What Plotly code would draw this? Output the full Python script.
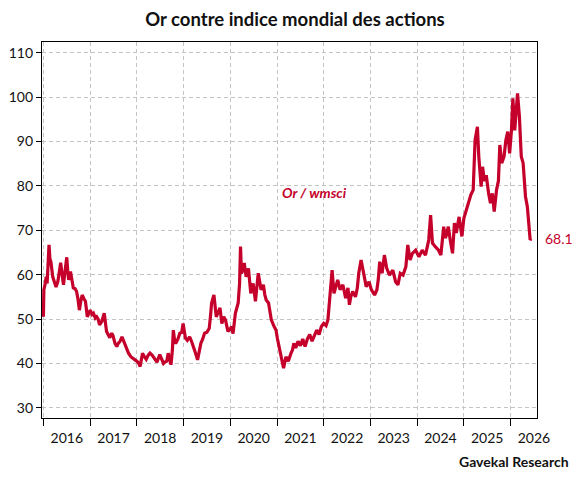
import plotly.graph_objects as go
import pandas as pd

# Or / wmsci ratio (fractional year, value)
years = [
    2016.00, 2016.01, 2016.04, 2016.06, 2016.08, 2016.10, 2016.12, 2016.14, 2016.16, 2016.20,
    2016.23, 2016.27, 2016.31, 2016.34, 2016.37, 2016.40, 2016.43, 2016.46, 2016.50, 2016.52,
    2016.54, 2016.58, 2016.61, 2016.64, 2016.68, 2016.71, 2016.74, 2016.77, 2016.80, 2016.83,
    2016.87, 2016.90, 2016.94, 2016.97, 2017.00, 2017.04, 2017.07, 2017.11, 2017.14, 2017.17,
    2017.20, 2017.25, 2017.30, 2017.35, 2017.38, 2017.42, 2017.46, 2017.49, 2017.53, 2017.57,
    2017.60, 2017.64, 2017.68, 2017.72, 2017.75, 2017.79, 2017.82, 2017.87, 2017.92, 2017.96,
    2018.00, 2018.04, 2018.07, 2018.10, 2018.12, 2018.16, 2018.20, 2018.24, 2018.28, 2018.33,
    2018.38, 2018.43, 2018.49, 2018.53, 2018.57, 2018.60, 2018.64, 2018.67, 2018.70, 2018.73,
    2018.76, 2018.78, 2018.81, 2018.83, 2018.88, 2018.92, 2018.96, 2018.99, 2019.02, 2019.04,
    2019.08, 2019.13, 2019.17, 2019.20, 2019.25, 2019.30, 2019.33, 2019.37, 2019.41, 2019.45,
    2019.50, 2019.55, 2019.58, 2019.60, 2019.65, 2019.68, 2019.70, 2019.74, 2019.78, 2019.82,
    2019.86, 2019.90, 2019.95, 2020.00, 2020.03, 2020.06, 2020.11, 2020.17, 2020.20, 2020.22,
    2020.24, 2020.27, 2020.30, 2020.34, 2020.39, 2020.44, 2020.49, 2020.54, 2020.57, 2020.60,
    2020.66, 2020.71, 2020.74, 2020.77, 2020.82, 2020.85, 2020.88, 2020.94, 2020.98, 2021.01,
    2021.04, 2021.09, 2021.14, 2021.19, 2021.24, 2021.30, 2021.33, 2021.36, 2021.40, 2021.45,
    2021.50, 2021.55, 2021.60, 2021.65, 2021.70, 2021.75, 2021.80, 2021.85, 2021.90, 2021.95,
    2022.00, 2022.05, 2022.09, 2022.13, 2022.16, 2022.18, 2022.22, 2022.26, 2022.30, 2022.35,
    2022.41, 2022.47, 2022.52, 2022.55, 2022.58, 2022.62, 2022.68, 2022.72, 2022.75, 2022.80,
    2022.85, 2022.91, 2022.97, 2023.02, 2023.09, 2023.14, 2023.17, 2023.20, 2023.25, 2023.30,
    2023.35, 2023.41, 2023.48, 2023.54, 2023.59, 2023.64, 2023.70, 2023.76, 2023.80, 2023.85,
    2023.90, 2023.97, 2024.04, 2024.11, 2024.18, 2024.25, 2024.29, 2024.33, 2024.39, 2024.46,
    2024.51, 2024.57, 2024.61, 2024.67, 2024.71, 2024.76, 2024.80, 2024.84, 2024.90, 2024.96,
    2025.00, 2025.05, 2025.10, 2025.15, 2025.20, 2025.24, 2025.29, 2025.32, 2025.37, 2025.40,
    2025.44, 2025.48, 2025.53, 2025.57, 2025.61, 2025.65, 2025.70, 2025.74, 2025.77, 2025.81,
    2025.86, 2025.90, 2025.94, 2025.98, 2026.02, 2026.05, 2026.09, 2026.15, 2026.19, 2026.23,
    2026.27, 2026.32, 2026.36, 2026.39, 2026.42, 2026.44,
]
ratio = [
    50.5, 56.6, 58.0, 59.5, 58.0, 63.0, 66.7, 63.5, 62.9, 59.5,
    58.5, 57.2, 58.5, 61.0, 62.7, 60.0, 57.7, 60.5, 63.9, 61.0,
    58.8, 60.7, 58.5, 57.0, 56.8, 56.2, 54.5, 52.0, 54.0, 55.4,
    54.5, 54.0, 50.5, 51.5, 52.0, 51.0, 51.3, 50.2, 50.5, 50.0,
    48.7, 49.5, 51.3, 47.2, 46.5, 45.8, 46.8, 46.2, 44.5, 43.8,
    44.5, 45.0, 46.0, 45.0, 43.8, 43.0, 42.3, 41.5, 41.2, 40.8,
    40.5, 40.0, 39.3, 40.8, 42.3, 41.5, 40.9, 41.8, 42.3, 41.8,
    41.0, 40.3, 42.0, 40.8, 40.0, 40.3, 40.5, 42.3, 40.5, 39.7,
    43.0, 47.5, 45.0, 44.5, 45.5, 46.8, 47.0, 49.0, 47.0, 45.7,
    45.2, 46.0, 45.0, 43.8, 42.5, 40.8, 42.5, 44.5, 45.5, 46.8,
    47.0, 47.9, 51.0, 53.6, 55.4, 53.0, 50.5, 51.5, 52.5, 49.0,
    50.5, 49.7, 47.2, 47.8, 48.3, 46.7, 51.3, 53.6, 58.0, 66.3,
    60.3, 61.0, 62.6, 59.5, 61.4, 55.8, 58.0, 54.0, 57.0, 60.3,
    56.6, 57.7, 55.5, 54.3, 53.6, 51.5, 49.8, 48.3, 47.5, 45.5,
    43.8, 41.5, 38.9, 41.5, 40.5, 42.3, 43.0, 44.5, 43.5, 45.0,
    44.0, 45.5, 43.8, 45.5, 46.5, 45.0, 46.5, 47.5, 46.5, 48.3,
    49.0, 48.5, 49.8, 54.3, 57.0, 61.0, 55.8, 57.5, 58.8, 56.6,
    57.7, 54.7, 57.0, 53.2, 55.0, 56.2, 55.0, 57.0, 60.3, 63.3,
    60.3, 57.3, 58.4, 56.6, 55.4, 56.6, 59.0, 62.9, 60.3, 64.4,
    61.4, 59.9, 61.0, 58.4, 57.7, 60.3, 59.9, 61.8, 66.7, 63.3,
    64.8, 65.5, 64.0, 65.5, 64.4, 67.8, 73.4, 67.1, 66.3, 65.5,
    64.4, 70.8, 68.2, 70.8, 67.8, 64.8, 71.6, 69.4, 73.0, 68.6,
    72.7, 74.6, 76.1, 78.0, 79.1, 90.3, 93.3, 86.6, 79.8, 84.3,
    81.1, 82.4, 78.3, 76.1, 78.3, 74.2, 79.1, 81.1, 89.2, 85.1,
    86.6, 90.3, 92.2, 87.3, 92.5, 99.7, 92.5, 100.8, 95.6, 86.6,
    85.1, 77.6, 75.3, 72.3, 67.8, 68.1,
]
y_ticks = [30, 40, 50, 60, 70, 80, 90, 100, 110]
last_label = "68.1"

RED = "#c4002b"
FONT = "Lato, Liberation Sans, Arial, sans-serif"


def to_date(y):
    start = pd.Timestamp(int(y), 1, 1)
    return start + pd.Timedelta(days=(y - int(y)) * 365.25)


dates = [to_date(y) for y in years]

fig = go.Figure()
fig.add_trace(go.Scatter(x=dates, y=ratio, mode="lines",
                         line=dict(color=RED, width=3.2), hoverinfo="skip"))

# the page adds an 8px body margin, so the figure is a bit smaller than the window
fig.update_layout(
    width=574, height=474, autosize=False,
    margin=dict(l=34, r=45, t=34, b=64),
    plot_bgcolor="white", paper_bgcolor="white",
    showlegend=False,
    font=dict(family=FONT, size=14, color="#111"),
    title=dict(text="<b>Or contre indice mondial des actions</b>",
               x=0.5, xanchor="center", y=0.976, yanchor="middle",
               font=dict(family=FONT, size=18.5, color="#111")),
)

fig.update_xaxes(
    type="date", range=["2015-12-21", "2026-07-27"], automargin=False,
    tick0="2016-01-01", dtick="M12", tickformat="%Y", ticklabelmode="period",
    showline=True, linecolor="black", linewidth=1.2, mirror=True,
    ticks="outside", ticklen=7, tickcolor="black",
    showgrid=True, gridcolor="#c4c4c4", griddash="4px,3px", gridwidth=1,
    zeroline=False, tickfont=dict(size=14),
)
fig.update_yaxes(
    range=[27.7, 112.4], tickvals=y_ticks, automargin=False,
    showline=True, linecolor="black", linewidth=1.2, mirror=True,
    ticks="outside", ticklen=5, tickcolor="black",
    showgrid=True, gridcolor="#c4c4c4", griddash="4px,3px", gridwidth=1,
    zeroline=False, tickfont=dict(size=14),
)

fig.add_annotation(x=to_date(2021.80), y=78.6, xref="x", yref="y",
                   text="<b><i>Or / wmsci</i></b>", showarrow=False,
                   font=dict(family=FONT, size=14, color=RED))
fig.add_annotation(x=1.012, y=ratio[-1], xref="paper", yref="y",
                   text=last_label, showarrow=False, xanchor="left",
                   font=dict(family=FONT, size=14, color=RED))
fig.add_annotation(x=1.069, y=-0.117, xref="paper", yref="paper",
                   text="<b>Gavekal Research</b>", showarrow=False,
                   xanchor="right", yanchor="middle",
                   font=dict(family=FONT, size=14, color="#111"))

fig.write_html("out.html")
